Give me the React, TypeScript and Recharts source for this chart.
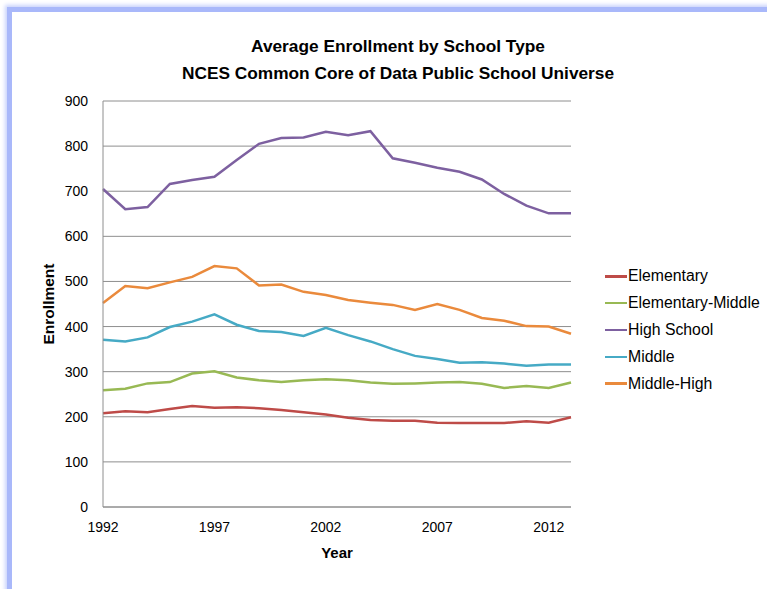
import { LineChart, Line, XAxis, YAxis, CartesianGrid, Label } from 'recharts'

const years = [1992, 1993, 1994, 1995, 1996, 1997, 1998, 1999, 2000, 2001, 2002, 2003, 2004, 2005, 2006, 2007, 2008, 2009, 2010, 2011, 2012, 2013]
const elementary = [208, 212, 210, 217, 224, 220, 221, 219, 215, 210, 205, 198, 193, 191, 191, 187, 186, 186, 186, 190, 187, 199]
const elementaryMiddle = [259, 262, 274, 277, 296, 301, 287, 281, 277, 281, 283, 281, 276, 273, 274, 276, 277, 273, 264, 268, 264, 276]
const highSchool = [705, 660, 665, 716, 725, 732, 769, 805, 818, 819, 832, 824, 833, 773, 763, 752, 743, 726, 694, 668, 651, 651]
const middle = [371, 367, 376, 399, 411, 427, 404, 390, 388, 379, 397, 381, 367, 350, 335, 328, 320, 321, 318, 313, 316, 316]
const middleHigh = [452, 490, 485, 498, 510, 534, 529, 491, 493, 477, 470, 459, 453, 448, 437, 450, 437, 419, 413, 401, 400, 384]

const xTicks = [1992, 1997, 2002, 2007, 2012]
const yTicks = [0, 100, 200, 300, 400, 500, 600, 700, 800, 900]

const series = [
  { key: 'elementary', name: 'Elementary', color: '#be4b48', values: elementary },
  { key: 'elementaryMiddle', name: 'Elementary-Middle', color: '#98b954', values: elementaryMiddle },
  { key: 'highSchool', name: 'High School', color: '#7d60a0', values: highSchool },
  { key: 'middle', name: 'Middle', color: '#46aac5', values: middle },
  { key: 'middleHigh', name: 'Middle-High', color: '#ea8a3c', values: middleHigh },
]

const data = years.map((year, i) => {
  const row: Record<string, number> = { year }
  series.forEach(s => { row[s.key] = s.values[i] })
  return row
})

const font = '"Liberation Sans", Arial, sans-serif'

export default function App() {
  return (
    <div style={{ position: 'absolute', left: 0, top: 0, width: 767, height: 589, overflow: 'hidden', background: '#fff', fontFamily: font }}>
      <div style={{ position: 'absolute', left: 7, top: 7, width: 800, height: 700, borderLeft: '5px solid #a9b8fa', borderTop: '5px solid #a9b8fa', boxShadow: '-2px -2px 4px #c8d2fc' }} />
      <div style={{ position: 'absolute', left: 0, top: 33, width: 796, textAlign: 'center', fontWeight: 'bold', fontSize: 17.3, lineHeight: '27px', color: '#000' }}>
        <div>Average Enrollment by School Type</div>
        <div>NCES Common Core of Data Public School Universe</div>
      </div>
      <div style={{ position: 'absolute', left: 0, top: 0 }}>
        <LineChart width={767} height={589} data={data} margin={{ top: 101, right: 196, bottom: 32, left: 43 }}>
          <CartesianGrid vertical={false} stroke="#8e8e8e" strokeWidth={1} />
          <XAxis dataKey="year" type="number" domain={[1992, 2013]} ticks={xTicks} tickLine={false} axisLine={{ stroke: '#8e8e8e' }}
            tick={{ fontSize: 14, fill: '#000', fontFamily: font }} tickMargin={9} height={50} interval={0}>
            <Label value="Year" position="insideBottom" offset={-1} style={{ fontSize: 15, fontWeight: 'bold', fill: '#000', fontFamily: font }} />
          </XAxis>
          <YAxis type="number" domain={[0, 900]} ticks={yTicks} tickLine={false} axisLine={{ stroke: '#8e8e8e' }} width={60}
            tick={{ fontSize: 14, fill: '#000', fontFamily: font }} tickMargin={9} interval={0}>
            <Label value="Enrollment" angle={-90} position="insideLeft" offset={5} style={{ fontSize: 15.5, fontWeight: 'bold', fill: '#000', fontFamily: font, textAnchor: 'middle' }} />
          </YAxis>
          {series.map(s => (
            <Line key={s.key} type="linear" dataKey={s.key} name={s.name} stroke={s.color} strokeWidth={2.5} dot={false} isAnimationActive={false} />
          ))}
        </LineChart>
      </div>
      <div style={{ position: 'absolute', left: 605, top: 263 }}>
        {series.map(s => (
          <div key={s.key} style={{ display: 'flex', alignItems: 'center', height: 26.8, fontSize: 15.8, color: '#000' }}>
            <span style={{ display: 'inline-block', width: 22, height: 2.5, background: s.color, marginRight: 1 }} />
            <span>{s.name}</span>
          </div>
        ))}
      </div>
    </div>
  )
}
